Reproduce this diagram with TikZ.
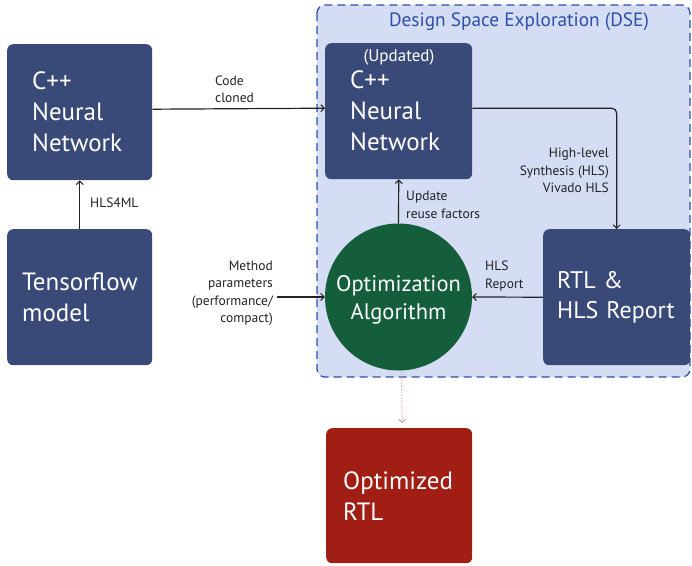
\documentclass[tikz,border=0pt]{standalone}
\usepackage{fontspec}
\setmainfont{PT Sans}
\usetikzlibrary{arrows.meta,positioning}

\definecolor{navy}{RGB}{58,74,120}
\definecolor{dsefill}{RGB}{212,221,243}
\definecolor{dseline}{RGB}{47,78,166}
\definecolor{optgreen}{RGB}{20,94,60}
\definecolor{optred}{RGB}{160,30,20}
\definecolor{linkgray}{RGB}{34,34,34}
\definecolor{dotpink}{RGB}{215,140,140}

\tikzset{
  block/.style={rectangle, rounded corners=6pt, fill=#1, text=white,
    font=\fontsize{25}{31}\selectfont, align=left, anchor=north west,
    inner ysep=0pt},
  block/.default=navy,
  lbl/.style={font=\fontsize{13.5}{17.5}\selectfont, text=linkgray, inner sep=0pt},
  link/.style={draw=linkgray, line width=1.2pt,
    -{Straight Barb[length=3.5pt,width=7pt,line width=1pt]}},
}

\begin{document}
\begin{tikzpicture}[x=1pt,y=-1pt]
\useasboundingbox (0,0) rectangle (692,565);

% design space exploration region
\draw[fill=dsefill, draw=dseline, line width=1.3pt, dash pattern=on 8pt off 5pt,
  rounded corners=8pt] (317,5) rectangle (690,377);
\node[text=dseline, font=\fontsize{19.3}{22}\selectfont] (dse) at (519,22)
  {Design Space Exploration (DSE)};

% blocks
\node[block, minimum width=145pt, minimum height=136pt, text width=95pt,
  inner xsep=25pt] (cnn) at (7,44) {C++\\Neural\\Network};
\node[block, minimum width=145pt, minimum height=136pt, text width=115pt,
  inner xsep=15pt] (tf) at (7,229) {Tensorflow\\model};
\node[block, minimum width=147pt, minimum height=136pt, text width=97pt,
  inner xsep=25pt] (ucnn) at (325,43) {C++\\Neural\\Network};
\node[text=white, font=\fontsize{17}{18}\selectfont, inner sep=0pt] (upd)
  at (399,57) {(Updated)};
\node[block, minimum width=147pt, minimum height=136pt, text width=119pt,
  inner xsep=14pt, font=\fontsize{24}{30.5}\selectfont] (rtl) at (543,229)
  {RTL \&\\HLS\ Report};
\node[block=optred, minimum width=146pt, minimum height=135pt, text width=112pt,
  inner xsep=17pt] (ortl) at (326,428) {Optimized\\RTL};
\node[circle, fill=optgreen, minimum size=147pt, inner sep=0pt] (opt)
  at (398.5,297) {};
\node[text=white, align=center, inner sep=0pt,
  font=\fontsize{22.5}{28}\selectfont] (optlbl) at (398.5,300)
  {Optimization\\Algorithm};

% connectors
\coordinate (mp) at (277,297);
\draw[link] ([yshift=3pt]cnn.east) -- ([yshift=3pt]ucnn.west);
\draw[link] (tf.north) -- (cnn.south);
\draw[link, rounded corners=5pt] ([yshift=3pt]ucnn.east) -| (rtl.north);
\draw[link] (opt.north) -- (ucnn.south);
\draw[link] (rtl.west) -- (opt.east);
\draw[link] (mp) -- (opt.west);
\draw[draw=dotpink, line width=1pt, dotted, shorten >=5pt,
  -{Straight Barb[length=3pt,width=7pt,line width=0.8pt]}]
  ([xshift=3pt]opt.south) -- ([xshift=3pt]ortl.north);

% connector labels
\node[lbl, align=left, anchor=west] (lcode) at (215,89.5) {Code\\cloned};
\node[lbl, anchor=west] (lhls4ml) at (90,203) {HLS4ML};
\node[lbl, align=right, anchor=east] (lsyn) at (609,170.5)
  {High-level\\Synthesis (HLS)\\Vivado HLS};
\node[lbl, align=left, anchor=west] (lreuse) at (406,205)
  {Update\\reuse factors};
\node[lbl, align=left, anchor=west] (lrep) at (485,276) {HLS\\Report};
\node[lbl, align=right, anchor=east] (lmeth) at (273,293.5)
  {Method\\parameters\\(performance/\\compact)};
\end{tikzpicture}
\end{document}
